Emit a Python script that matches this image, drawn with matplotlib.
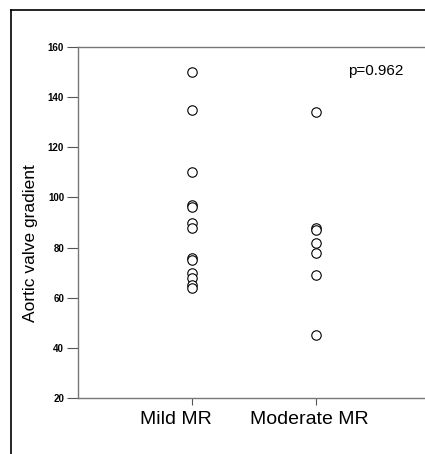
import numpy as np
import matplotlib
matplotlib.use("Agg")
from matplotlib import pyplot as plt
from matplotlib.lines import Line2D

plt.rcParams['font.family'] = ['Liberation Sans', 'DejaVu Sans']

# data
groups = ["Mild MR", "Moderate MR"]
mild = [150, 135, 110, 97, 96, 90, 88, 76, 75, 70, 68, 65, 64]
moderate = [134, 88, 87, 82, 78, 69, 45]
yticks = [20, 40, 60, 80, 100, 120, 140, 160]
p_text = "p=0.962"

fig = plt.figure(figsize=(4.25, 4.54), dpi=100)
ax = fig.add_axes([78/425, 1 - 398/454, 1 - 78/425, (398 - 47)/454])

for i, vals in enumerate([mild, moderate]):
    ax.plot(np.full(len(vals), i), vals, linestyle='none', marker='o',
            markersize=6.8, markerfacecolor='white', markeredgecolor='black',
            markeredgewidth=0.8)

ax.set_xlim(-0.919, 1.879)
ax.set_ylim(20, 160)
ax.set_yticks(yticks)
ax.set_yticklabels([str(t) for t in yticks], fontsize=7, fontweight='bold')
ax.set_xticks([0, 1])
ax.set_xticklabels([])
ax.tick_params(axis='y', length=8, width=0.8, color='#555555', pad=2)
ax.tick_params(axis='x', length=5, width=0.8, color='#555555')

for s in ['left', 'top', 'bottom']:
    ax.spines[s].set_color('#777777')
    ax.spines[s].set_linewidth(1.0)
ax.spines['right'].set_visible(False)

# category labels sit a little left of their ticks in the original
label_x = [176/425, 309/425]
for x, g in zip(label_x, groups):
    fig.text(x, 1 - 420/454, g, fontsize=14, ha='center', va='center')

fig.text(31/425, 1 - 243/454, "Aortic valve gradient", fontsize=12.5,
         rotation=90, ha='center', va='center')
ax.text((376 - 78)/347, 1 - (71 - 47)/351, p_text, transform=ax.transAxes,
        fontsize=11, ha='center', va='center')

# outer frame of the figure (left and top only)
fig.add_artist(Line2D([11/425, 11/425], [0, 1 - 10/454], color='black',
                      linewidth=1.2, transform=fig.transFigure))
fig.add_artist(Line2D([11/425, 1], [1 - 10/454, 1 - 10/454], color='black',
                      linewidth=1.2, transform=fig.transFigure))

fig.savefig("out.png", dpi=100)
